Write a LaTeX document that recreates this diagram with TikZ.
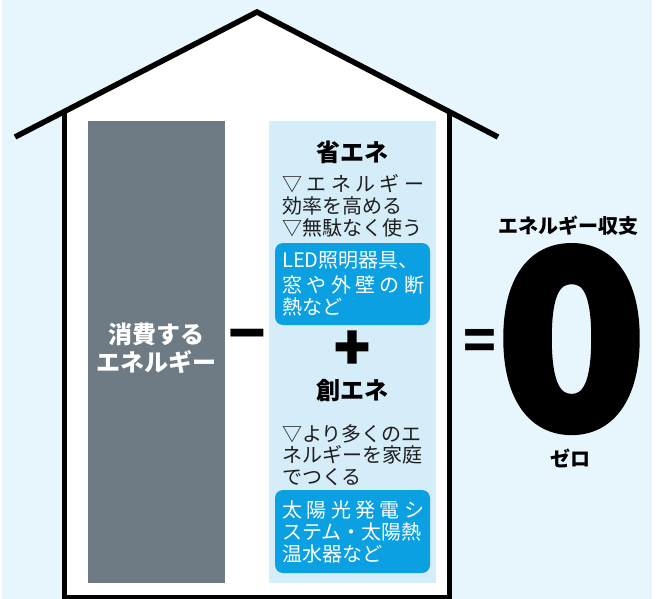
\documentclass[tikz,border=0pt]{standalone}
\usepackage{fontspec}
\newfontfamily\jp{Noto Sans CJK JP}
\newfontfamily\jpheavy{Noto Sans CJK JP}[FakeBold=3]
\definecolor{bgblue}{HTML}{E7F5FD}
\definecolor{panelblue}{HTML}{D5ECF9}
\definecolor{slate}{HTML}{6F7B84}
\definecolor{boxblue}{HTML}{0AA0E2}
\definecolor{ink}{HTML}{1E1E1E}
\tikzset{
  jtext/.style={anchor=base west, inner sep=0pt, text=ink, font=\jp\fontsize{20}{24}\selectfont},
  wtext/.style={jtext, text=white},
  jtitle/.style={anchor=base, inner sep=0pt, text=black, font=\jp\bfseries\fontsize{24}{28}\selectfont},
  bluebox/.style={fill=boxblue, rounded corners=8pt, minimum width=155pt, inner sep=0pt},
  oper/.style={anchor=center, inner sep=0pt, font=\jp\bfseries},
}
\newcommand\spread[2]{\hbox to #1{#2}}
\begin{document}
\begin{tikzpicture}[x=1pt,y=-1pt]
\useasboundingbox (0,0) rectangle (656,599);
\fill[bgblue] (2,0) rectangle (652,599);
% house interior
\fill[white] (64,599) -- (64,111.7) -- (257,12) -- (449,111.7) -- (449,599) -- cycle;
% walls
\draw[line width=5pt, line join=miter] (64,112) -- (64,597) -- (449,597) -- (449,112);
% roof
\draw[line width=5.5pt, line join=miter] (15,137) -- (257,12) -- (498,137);

% consumed energy
\node (consume) [fill=slate, minimum width=137pt, minimum height=462pt, inner sep=0pt] at (156.5,352) {};
\node (consumeT) [anchor=center, inner sep=0pt, align=center, text=white, font=\jp\bfseries\fontsize{24}{28}\selectfont] at (156,348) {消費する\\エネルギー};

\node (minus) [oper, font=\jp\bfseries\fontsize{62}{62}\selectfont] at (247,343) {−};

% panel
\node (panel) [fill=panelblue, minimum width=167pt, minimum height=462pt, inner sep=0pt] at (352.5,352) {};

\node (save) [jtitle] at (352,161) {省エネ};
\node (s1) [jtext] at (282,191) {\spread{142pt}{▽\hfill エ\hfill ネ\hfill ル\hfill ギ\hfill ー}};
\node (s2) [jtext] at (282,213.5) {効率を高める};
\node (s3) [jtext] at (282,235) {▽無駄なく使う};
\node (box1) [bluebox, minimum height=82pt] at (352.5,284) {};
\node (b11) [wtext] at (282,267.6) {LED照明器具、};
\node (b12) [wtext] at (282,292.6) {\spread{142pt}{窓\hfill や\hfill 外\hfill 壁\hfill の\hfill 断}};
\node (b13) [wtext] at (282,314) {熱など};

\node (plus) [oper, font=\jpheavy\bfseries\fontsize{58}{58}\selectfont] at (352,350) {+};

\node (create) [jtitle] at (352,399.5) {創エネ};
\node (c1) [jtext] at (282,441) {▽より多くのエ};
\node (c2) [jtext] at (282,462.6) {ネルギーを家庭};
\node (c3) [jtext] at (282,484) {でつくる};
\node (box2) [bluebox, minimum height=83pt] at (352.5,531.5) {};
\node (b21) [wtext] at (282,517.6) {\spread{142pt}{太\hfill 陽\hfill 光\hfill 発\hfill 電\hfill シ}};
\node (b22) [wtext] at (282,539) {ステム・太陽熱};
\node (b23) [wtext] at (282,561) {温水器など};

\node (equals) [oper, font=\jp\bfseries\fontsize{54}{54}\selectfont] at (480,345) {=};

\node (balance) [anchor=base, inner sep=0pt, font=\jp\bfseries\fontsize{20}{24}\selectfont] at (568,233) {エネルギー収支};
\node (zero) [anchor=base, inner sep=0pt, text height=178pt, text depth=0pt, font=\jpheavy\bfseries\fontsize{245}{245}\selectfont] at (571.5,428) {0};
\node (zeroR) [anchor=base, inner sep=0pt, font=\jp\bfseries\fontsize{20}{24}\selectfont] at (570,466) {ゼロ};
\end{tikzpicture}
\end{document}
